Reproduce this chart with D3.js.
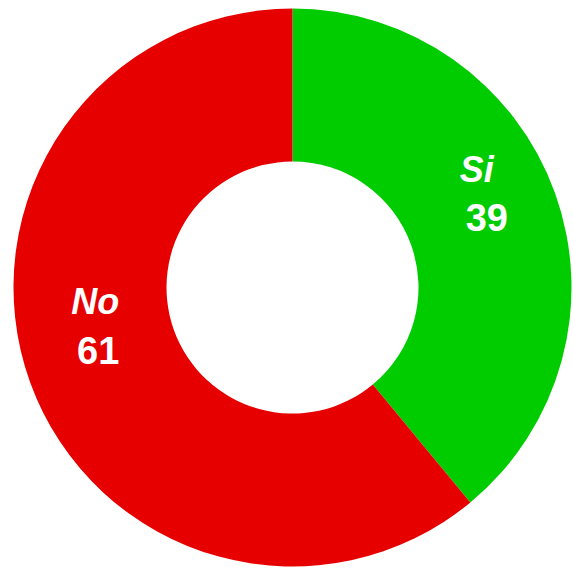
<!DOCTYPE html>
<html>
<head>
<meta charset="utf-8">
<script src="https://cdn.jsdelivr.net/npm/d3@7"></script>
<style>
  html, body { margin: 0; padding: 0; background: #ffffff; }
  svg { display: block; }
</style>
</head>
<body>
<svg id="chart" width="573" height="569"></svg>
<script>
const categories = ["Si", "No"];
const values = [39, 61];
const colors = ["#00CC00", "#E60000"];

const W = 573, H = 569;
const cx = 292.5, cy = 287.5;
const outerR = 279, innerR = 126;
const labelR = 215;
// small per-slice nudges to match the reference label placement
const nudges = [[-8, -7.5], [8, -20.5]];
const nameShift = [-10, -3];

const svg = d3.select("#chart");
const g = svg.append("g").attr("transform", `translate(${cx},${cy})`);

const data = categories.map((c, i) => ({ cat: c, val: values[i], color: colors[i], i }));

const pie = d3.pie().sort(null).value(d => d.val);
const arcs = pie(data);

const arc = d3.arc().innerRadius(innerR).outerRadius(outerR);
const labelArc = d3.arc().innerRadius(labelR).outerRadius(labelR);

g.selectAll("path.slice")
  .data(arcs)
  .join("path")
  .attr("class", "slice")
  .attr("d", arc)
  .attr("fill", d => d.data.color);

const labels = g.selectAll("g.label")
  .data(arcs)
  .join("g")
  .attr("class", "label")
  .attr("transform", d => {
    const [x, y] = labelArc.centroid(d);
    const n = nudges[d.data.i];
    return `translate(${x + n[0]},${y + n[1]})`;
  });

labels.append("text")
  .attr("text-anchor", "middle")
  .attr("x", d => nameShift[d.data.i])
  .attr("y", -25.5)
  .attr("font-family", "Liberation Sans, Arial, sans-serif")
  .attr("font-weight", "bold")
  .attr("font-style", "italic")
  .attr("font-size", 36)
  .attr("fill", "#ffffff")
  .text(d => d.data.cat);

labels.append("text")
  .attr("text-anchor", "middle")
  .attr("y", 24)
  .attr("font-family", "Liberation Sans, Arial, sans-serif")
  .attr("font-weight", "bold")
  .attr("font-size", 38)
  .attr("fill", "#ffffff")
  .text(d => d.data.val);
</script>
</body>
</html>
